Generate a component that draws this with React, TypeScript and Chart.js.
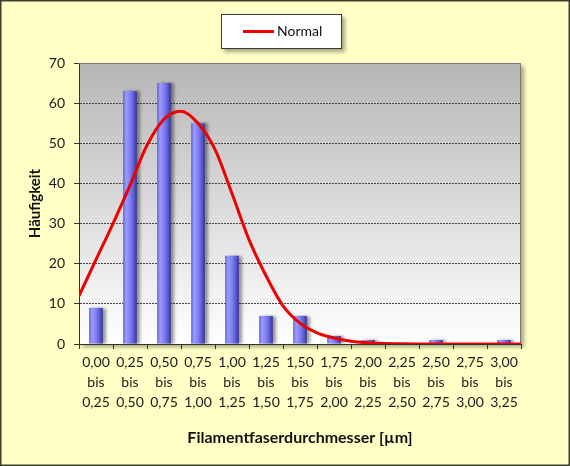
import React, { useEffect, useRef } from "react";
import { Chart, registerables } from "chart.js";

Chart.register(...registerables);

// ---- data ----
const categories: string[][] = [
  ["0,00", "bis", "0,25"],
  ["0,25", "bis", "0,50"],
  ["0,50", "bis", "0,75"],
  ["0,75", "bis", "1,00"],
  ["1,00", "bis", "1,25"],
  ["1,25", "bis", "1,50"],
  ["1,50", "bis", "1,75"],
  ["1,75", "bis", "2,00"],
  ["2,00", "bis", "2,25"],
  ["2,25", "bis", "2,50"],
  ["2,50", "bis", "2,75"],
  ["2,75", "bis", "3,00"],
  ["3,00", "bis", "3,25"],
];
const counts = [9, 63, 65, 55, 22, 7, 7, 2, 1, 0, 1, 0, 1];

// normal curve (x in µm)
const normalX = [
  0, 0.125, 0.25, 0.375, 0.5, 0.625, 0.75, 0.875, 1.0, 1.125, 1.25, 1.375, 1.5,
  1.625, 1.75, 1.875, 2.0, 2.125, 2.25, 2.375, 2.5, 2.625, 2.75, 2.875, 3.0,
  3.125, 3.25,
];
const normalY = [
  12, 21, 30, 39.5, 49.5, 56, 58, 55, 48.5, 37.5, 26, 17, 9.5, 5.2, 2.8, 1.5,
  0.7, 0.3, 0.1, 0.04, 0.01, 0, 0, 0, 0, 0, 0,
];
const xRange = [0, 3.25];
const yRange = [0, 70];
const yStep = 10;

const legendLabel = "Normal";
const xTitle = "Filamentfaserdurchmesser [µm]";
const yTitle = "Häufigkeit";

const FONT = "Lato, 'Open Sans', sans-serif";
const BAR_PCT = 0.4;

const barFill = (c: any) => {
  const chart = c.chart;
  const xs = chart.scales && chart.scales.x;
  if (!xs || !chart.chartArea || c.dataIndex === undefined || !isFinite(xs.width)) return "#7878f0";
  const center = xs.getPixelForValue(c.dataIndex);
  const w = (xs.width / categories.length) * BAR_PCT;
  if (!isFinite(center) || !isFinite(w) || w <= 0) return "#7878f0";
  const g = chart.ctx.createLinearGradient(center - w / 2, 0, center + w / 2, 0);
  g.addColorStop(0, "#5a5ad2");
  g.addColorStop(0.2, "#9c9cff");
  g.addColorStop(0.5, "#8080f4");
  g.addColorStop(0.8, "#5858cc");
  g.addColorStop(1, "#30308e");
  return g;
};

const framePlugin = {
  id: "frame",
  beforeDraw(chart: any) {
    const { ctx, width, height, chartArea: a } = chart;
    ctx.save();
    ctx.fillStyle = "#FFFFC6";
    ctx.fillRect(0, 0, width, height);
    ctx.strokeStyle = "#3c3c2a";
    ctx.lineWidth = 1.5;
    ctx.strokeRect(0.75, 0.75, width - 1.5, height - 1.5);
    ctx.shadowColor = "rgba(0,0,0,0.35)";
    ctx.shadowOffsetX = 3;
    ctx.shadowOffsetY = 3;
    ctx.shadowBlur = 4;
    const g = ctx.createLinearGradient(0, a.top, 0, a.bottom);
    g.addColorStop(0, "#b6b6b6");
    g.addColorStop(1, "#ffffff");
    ctx.fillStyle = g;
    ctx.fillRect(a.left, a.top, a.right - a.left, a.bottom - a.top);
    ctx.restore();
  },
  beforeDatasetsDraw(chart: any) {
    const { ctx, chartArea: a } = chart;
    ctx.save();
    ctx.strokeStyle = "#7a7a7a";
    ctx.lineWidth = 1;
    ctx.beginPath();
    ctx.moveTo(a.left, a.top + 0.5);
    ctx.lineTo(a.right - 0.5, a.top + 0.5);
    ctx.lineTo(a.right - 0.5, a.bottom);
    ctx.stroke();
    ctx.restore();
  },
  afterDraw(chart: any) {
    const { ctx, width } = chart;
    const bw = 121;
    const bh = 35;
    const bx = Math.round(width / 2 - 64);
    const by = 14;
    ctx.save();
    ctx.shadowColor = "rgba(0,0,0,0.35)";
    ctx.shadowOffsetX = 3;
    ctx.shadowOffsetY = 3;
    ctx.shadowBlur = 4;
    ctx.fillStyle = "#ffffff";
    ctx.fillRect(bx, by, bw, bh);
    ctx.restore();
    ctx.save();
    ctx.strokeStyle = "#3a3a3a";
    ctx.lineWidth = 1;
    ctx.strokeRect(bx + 0.5, by + 0.5, bw - 1, bh - 1);
    ctx.strokeStyle = "#ee0000";
    ctx.lineWidth = 3;
    ctx.beginPath();
    ctx.moveTo(bx + 22, by + 17.5);
    ctx.lineTo(bx + 53, by + 17.5);
    ctx.stroke();
    ctx.fillStyle = "#111111";
    ctx.font = `14px ${FONT}`;
    ctx.textBaseline = "middle";
    ctx.textAlign = "left";
    ctx.fillText(legendLabel, bx + 56, by + 17.5);
    ctx.restore();
  },
};

const shadowPlugin = {
  id: "barShadow",
  beforeDatasetDraw(chart: any, args: any) {
    if (args.meta.type === "bar") {
      const ctx = chart.ctx;
      ctx.save();
      ctx.shadowColor = "rgba(0,0,0,0.4)";
      ctx.shadowOffsetX = 3;
      ctx.shadowOffsetY = 0;
      ctx.shadowBlur = 3;
    }
  },
  afterDatasetDraw(chart: any, args: any) {
    if (args.meta.type === "bar") chart.ctx.restore();
  },
};

export default function App() {
  const ref = useRef<HTMLCanvasElement | null>(null);

  useEffect(() => {
    document.body.style.margin = "0";
    if (!ref.current) return;
    const chart = new Chart(ref.current, {
      type: "bar",
      data: {
        labels: categories,
        datasets: [
          {
            type: "line",
            label: legendLabel,
            data: normalX.map((x, i) => ({ x, y: normalY[i] })),
            xAxisID: "xl",
            borderColor: "#ee0000",
            borderWidth: 3,
            pointRadius: 0,
            fill: false,
            cubicInterpolationMode: "monotone",
            order: 0,
          } as any,
          {
            type: "bar",
            label: "Häufigkeit",
            data: counts,
            xAxisID: "x",
            backgroundColor: barFill as any,
            borderWidth: 0,
            grouped: false,
            barPercentage: BAR_PCT,
            categoryPercentage: 1,
            order: 1,
          } as any,
        ],
      },
      options: {
        animation: false,
        responsive: false,
        maintainAspectRatio: false,
        devicePixelRatio: 1,
        layout: { padding: { left: 0, right: 49, top: 63, bottom: 0 } },
        plugins: {
          legend: { display: false },
          tooltip: { enabled: false },
        },
        scales: {
          x: {
            type: "category",
            position: "bottom",
            offset: true,
            grid: {
              display: true,
              drawOnChartArea: false,
              drawTicks: true,
              tickLength: 5,
              tickColor: "#333333",
              offset: true,
            },
            border: { display: true, color: "#333333", width: 1 },
            ticks: {
              color: "#1a1a1a",
              font: { family: FONT, size: 14, lineHeight: 1.4 },
              padding: 4,
              maxRotation: 0,
              autoSkip: false,
            },
            title: {
              display: true,
              text: xTitle,
              color: "#111111",
              font: { family: FONT, size: 16, weight: "bold", lineHeight: 1.2 },
              padding: { top: 0, bottom: 19 },
            },
            afterFit: (s: any) => {
              s.height = 122;
            },
          },
          xl: {
            type: "linear",
            display: false,
            min: xRange[0],
            max: xRange[1],
            offset: false,
          },
          y: {
            type: "linear",
            min: yRange[0],
            max: yRange[1],
            ticks: {
              stepSize: yStep,
              color: "#1a1a1a",
              font: { family: FONT, size: 14 },
              padding: 9,
            },
            grid: {
              color: (c: any) =>
                c.tick && (c.tick.value === yRange[0] || c.tick.value === yRange[1])
                  ? "rgba(0,0,0,0)"
                  : "#444444",
              tickColor: "#333333",
              tickLength: 5,
              lineWidth: 1,
            },
            border: { display: true, color: "#333333", width: 1, dash: [2, 1] },
            title: {
              display: true,
              text: yTitle,
              color: "#111111",
              font: { family: FONT, size: 15, weight: "bold", lineHeight: 1.2 },
              padding: { top: 26, bottom: 0 },
            },
            afterFit: (s: any) => {
              s.width = 79;
            },
          },
        },
      },
      plugins: [framePlugin, shadowPlugin],
    });
    return () => chart.destroy();
  }, []);

  return (
    <div style={{ width: 570, height: 466, position: "relative" }}>
      <canvas ref={ref} width={570} height={466} style={{ display: "block", width: 570, height: 466 }} />
    </div>
  );
}
